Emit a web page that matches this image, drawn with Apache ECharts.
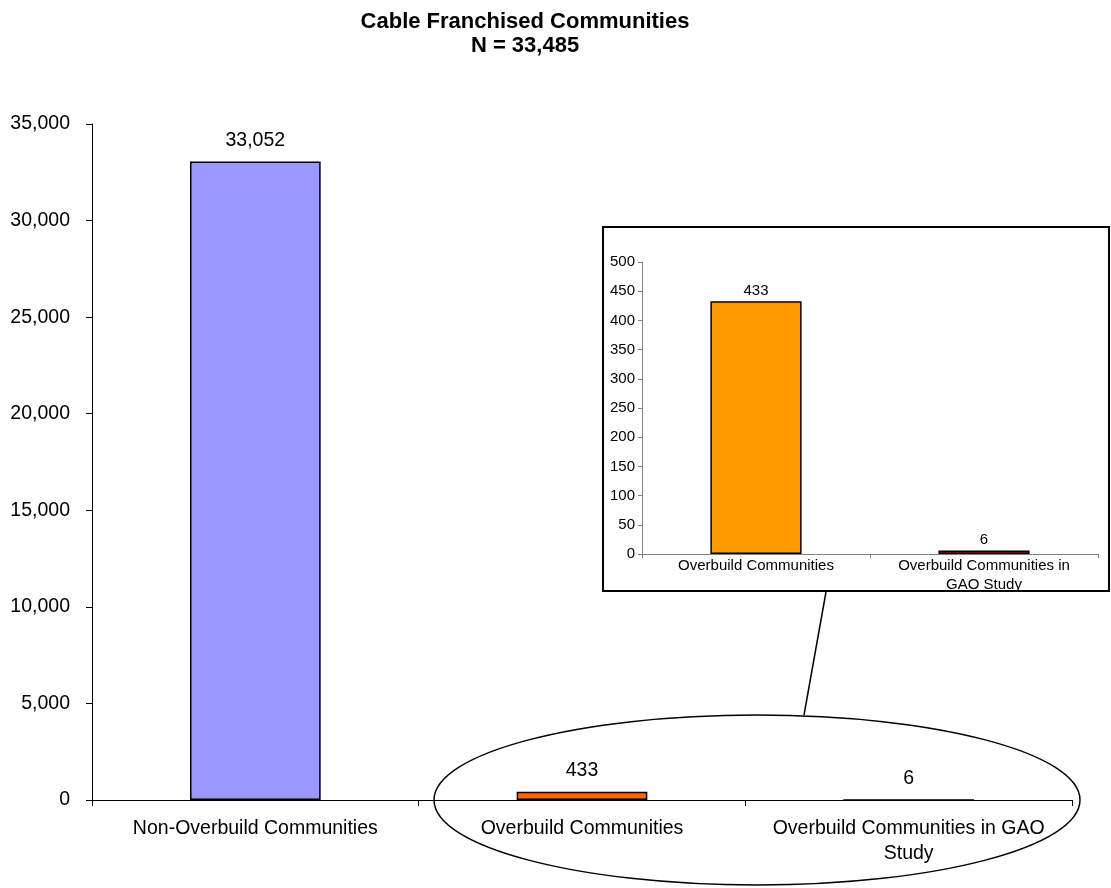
<!DOCTYPE html>
<html>
<head>
<meta charset="utf-8">
<script src="https://cdn.jsdelivr.net/npm/echarts@6/dist/echarts.min.js"></script>
<style>
html,body{margin:0;padding:0;background:#fff;}
#chart{width:1111px;height:888px;}
</style>
</head>
<body>
<div id="chart"></div>
<script>
// ---- data ----
var titleLines = ['Cable Franchised Communities', 'N = 33,485'];
var mainCategories = ['Non-Overbuild Communities', 'Overbuild Communities', 'Overbuild Communities in GAO Study'];
var mainValues = [33052, 433, 6];
var mainColors = ['#9999FF', '#FF6600', '#FF0000'];
var mainTicks = { min: 0, max: 35000, interval: 5000 };

var insetCategories = ['Overbuild Communities', 'Overbuild Communities in GAO Study'];
var insetValues = [433, 6];
var insetColors = ['#FF9900', '#FF0000'];
var insetTicks = { min: 0, max: 500, interval: 50 };

var FONT = '"Liberation Sans", Arial, sans-serif';
function fmt(v) { return Number(v).toLocaleString('en-US'); }
function wrap(maxChars) {
  return function (s) {
    var words = String(s).split(' '), lines = [], cur = '';
    words.forEach(function (w) {
      var t = cur ? cur + ' ' + w : w;
      if (t.length > maxChars && cur) { lines.push(cur); cur = w; } else { cur = t; }
    });
    if (cur) lines.push(cur);
    return lines.join('\n');
  };
}

var chart = echarts.init(document.getElementById('chart'), null, { renderer: 'canvas' });
chart.setOption({
  backgroundColor: '#ffffff',
  animation: false,
  textStyle: { fontFamily: FONT, color: '#000' },
  title: {
    text: titleLines.join('\n'),
    left: 520, top: 5, textAlign: 'center',
    textStyle: { fontFamily: FONT, fontSize: 22, fontWeight: 'bold', color: '#000', lineHeight: 24 }
  },
  grid: [
    { left: 92, top: 124, right: 39, bottom: 88 },
    { left: 642, top: 262, width: 456, height: 292 }
  ],
  xAxis: [
    {
      type: 'category', gridIndex: 0, data: mainCategories,
      axisLine: { lineStyle: { color: '#000', width: 1 } },
      axisTick: { show: true, length: 6, alignWithLabel: false, lineStyle: { color: '#000' } },
      axisLabel: { interval: 0, margin: 16, fontSize: 19.5, color: '#000', fontFamily: FONT,
                   lineHeight: 25, formatter: wrap(28) }
    },
    {
      type: 'category', gridIndex: 1, data: insetCategories, z: 10,
      axisLine: { lineStyle: { color: '#808080', width: 1 } },
      axisTick: { show: true, length: 4, lineStyle: { color: '#808080' } },
      axisLabel: { interval: 0, margin: 2, fontSize: 15, color: '#000', fontFamily: FONT,
                   lineHeight: 19, formatter: wrap(24) }
    }
  ],
  yAxis: [
    {
      type: 'value', gridIndex: 0, min: mainTicks.min, max: mainTicks.max, interval: mainTicks.interval,
      splitLine: { show: false },
      axisLine: { show: true, lineStyle: { color: '#000', width: 1 } },
      axisTick: { show: true, length: 6, lineStyle: { color: '#000' } },
      axisLabel: { margin: 22, fontSize: 19.5, color: '#000', fontFamily: FONT, formatter: fmt }
    },
    {
      type: 'value', gridIndex: 1, min: insetTicks.min, max: insetTicks.max, interval: insetTicks.interval, z: 10,
      splitLine: { show: false },
      axisLine: { show: true, lineStyle: { color: '#808080', width: 1 } },
      axisTick: { show: true, length: 4, lineStyle: { color: '#808080' } },
      axisLabel: { margin: 7, fontSize: 15, color: '#000', fontFamily: FONT, formatter: fmt }
    }
  ],
  graphic: [
    { type: 'rect', z: 5, shape: { x: 603, y: 227, width: 506, height: 364 },
      style: { fill: '#fff', stroke: '#000', lineWidth: 2 } },
    { type: 'line', z: 5, shape: { x1: 826, y1: 592, x2: 804, y2: 715 },
      style: { stroke: '#000', lineWidth: 1.5 } },
    { type: 'ellipse', z: 5, shape: { cx: 757, cy: 800, rx: 323, ry: 85 },
      style: { fill: null, stroke: '#000', lineWidth: 1.5 } }
  ],
  series: [
    {
      type: 'bar', xAxisIndex: 0, yAxisIndex: 0, barWidth: '40%',
      data: mainValues.map(function (v, i) {
        return { value: v, itemStyle: { color: mainColors[i], borderColor: '#000', borderWidth: 1.5 } };
      }),
      label: { show: true, position: 'top', distance: 11, fontSize: 19.5, color: '#000', fontFamily: FONT,
               formatter: function (p) { return fmt(p.value); } }
    },
    {
      type: 'bar', xAxisIndex: 1, yAxisIndex: 1, barWidth: '40%', z: 10,
      data: insetValues.map(function (v, i) {
        return { value: v, itemStyle: { color: insetColors[i], borderColor: '#000', borderWidth: 1.5 } };
      }),
      label: { show: true, position: 'top', distance: 3, fontSize: 15, color: '#000', fontFamily: FONT,
               formatter: function (p) { return fmt(p.value); } }
    }
  ]
});
</script>
</body>
</html>
